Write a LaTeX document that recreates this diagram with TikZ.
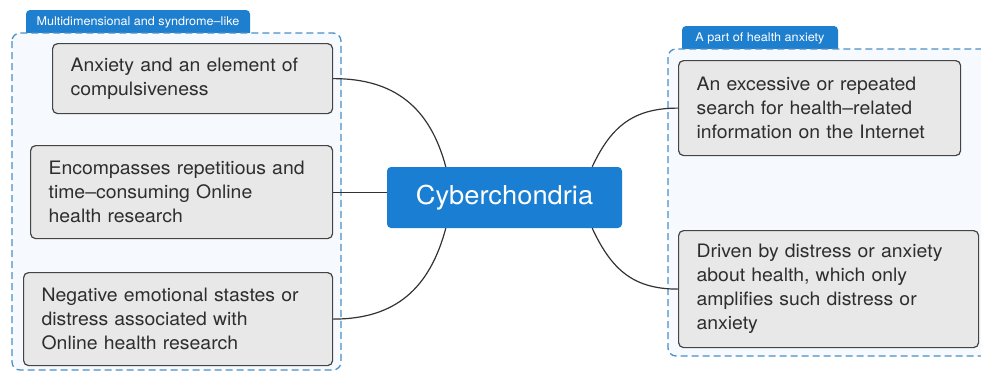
\documentclass[tikz,border=0pt]{standalone}
\usepackage{fontspec}
\setmainfont{TeX Gyre Heros}[FakeStretch=1.05]
\usetikzlibrary{calc}
\definecolor{tabblue}{HTML}{1F7FCF}
\definecolor{centerblue}{HTML}{1A7ED3}
\definecolor{framedash}{HTML}{4A8FC6}
\definecolor{framefill}{HTML}{F6FAFE}
\definecolor{boxfill}{HTML}{E8E8E8}
\definecolor{boxline}{HTML}{444444}
\definecolor{txt}{HTML}{2E2E2E}
\definecolor{connline}{HTML}{333333}
\begin{document}
\begin{tikzpicture}[x=1pt,y=-1pt,
  groupframe/.style={draw=framedash, fill=framefill, line width=1.3pt, dash pattern=on 7pt off 4pt, rounded corners=8pt},
  tabshape/.style={fill=tabblue},
  tablabel/.style={text=white, font=\fontsize{12}{14}\selectfont, inner sep=0pt},
  itembox/.style={draw=boxline, fill=boxfill, line width=1.2pt, rounded corners=5pt, anchor=north west, align=left, inner xsep=18pt, inner ysep=0pt, font=\fontsize{18.5}{24}\selectfont, text=txt},
  centerbox/.style={fill=centerblue, rounded corners=4pt, text=white, font=\fontsize{26}{30}\selectfont, minimum width=235pt, minimum height=61pt, inner sep=0pt},
  conn/.style={draw=connline, line width=1.2pt}
]
\useasboundingbox (0,0) rectangle (981,373);

% left group
\fill[tabshape] (26,33) [rounded corners=4pt]-- (26,10) -- (250,10) [sharp corners]-- (250,33) -- cycle;
\node[tablabel] (tabL) at (138,22) {Multidimensional and syndrome–like};
\draw[groupframe] (12,33) rectangle (341,370);

% right group
\fill[tabshape] (682,49) [rounded corners=4pt]-- (682,26) -- (838,26) [sharp corners]-- (838,49) -- cycle;
\node[tablabel] (tabR) at (760,38) {A part of health anxiety};
\draw[groupframe] (668,49) rectangle (995,356);

% items
\node[itembox, text width=244pt, minimum height=70pt] (b1) at (52,43)
  {Anxiety and an element of\\compulsiveness};
\node[itembox, text width=266pt, minimum height=93pt] (b2) at (30,145)
  {Encompasses repetitious and\\time–consuming Online\\health research};
\node[itembox, text width=273pt, minimum height=93pt] (b3) at (23,272)
  {Negative emotional stastes or\\distress associated with\\Online health research};
\node[itembox, text width=246pt, minimum height=95pt] (b4) at (678,60)
  {An excessive or repeated\\search for health–related\\information on the Internet};
\node[itembox, text width=264pt, minimum height=117pt] (b5) at (678,230)
  {Driven by distress or anxiety\\about health, which only\\amplifies such distress or\\anxiety};

% center
\node[centerbox] (c) at (504.5,197.5) {Cyberchondria};

% connectors
\draw[conn] (b1.east) to[out=0, in=105, looseness=1.1] ($(c.north west)+(59,0)$);
\draw[conn] (b2.east) -- (b2.east -| c.west);
\draw[conn] (b3.east) to[out=0, in=-105, looseness=1.1] ($(c.south west)+(59,0)$);
\draw[conn] (b4.west) to[out=180, in=65, looseness=1.1] ($(c.north east)+(-30,0)$);
\draw[conn] (b5.west) to[out=180, in=-65, looseness=1.1] ($(c.south east)+(-30,0)$);
\end{tikzpicture}
\end{document}
